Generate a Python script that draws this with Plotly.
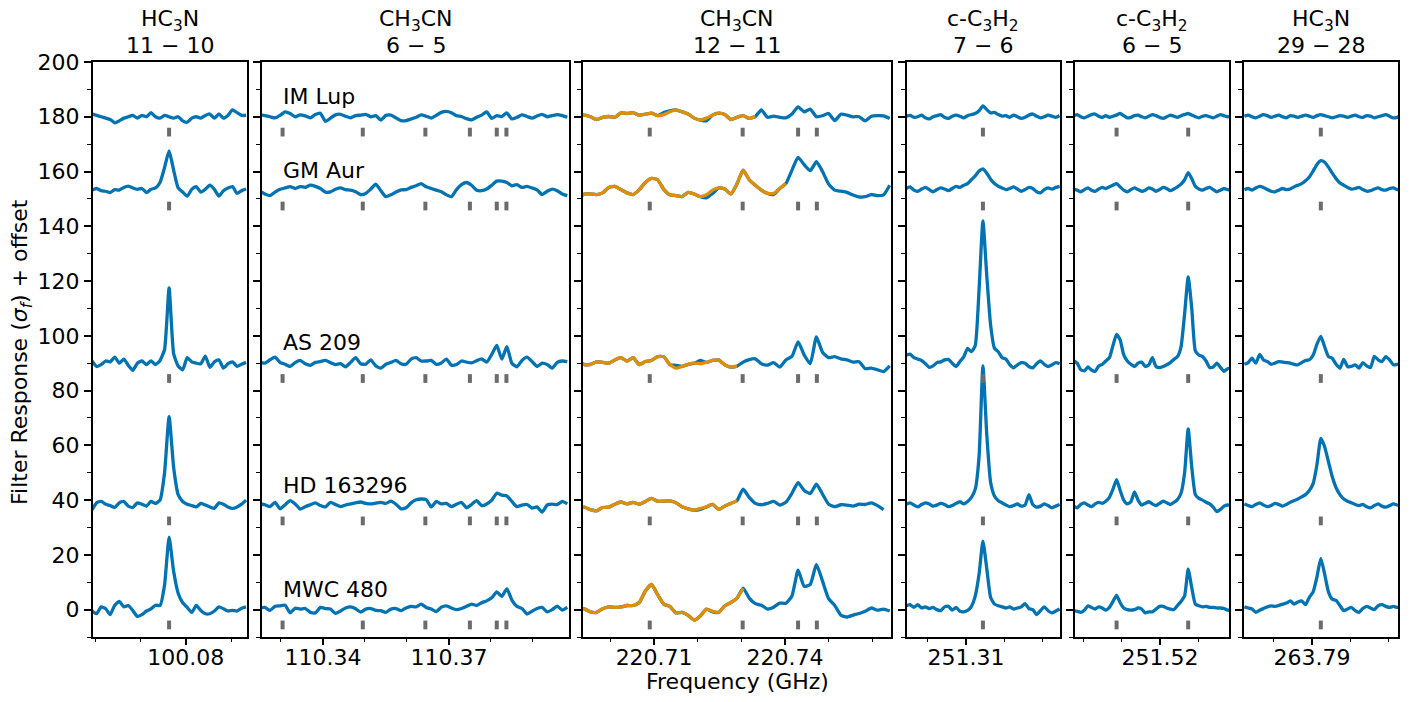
import numpy as np
import plotly.graph_objects as go

# ---------------- data ----------------
SOURCES = ["IM Lup", "GM Aur", "AS 209", "HD 163296", "MWC 480"]
OFFSETS = [180, 153, 90, 38, 0]

TITLE_MOLECULE = ["HC<sub>3</sub>N", "CH<sub>3</sub>CN", "CH<sub>3</sub>CN",
                  "c-C<sub>3</sub>H<sub>2</sub>", "c-C<sub>3</sub>H<sub>2</sub>", "HC<sub>3</sub>N"]
TITLE_TRANSITION = ["11 − 10", "6 − 5", "12 − 11", "7 − 6", "6 − 5", "29 − 28"]

# channel grids: reference frequency, channel width, first channel index
GRID_F0 = [100.0763, 110.3814, 220.7430, 251.3144, 251.5087, 263.7923]
GRID_DF = [0.001, 0.0012, 0.0014, 0.001, 0.00093, 0.001]
GRID_K0 = [-17, -47, -36, -20, -12, -20]

X_RANGES = [[100.0595, 100.0935], [110.3255, 110.3986], [220.6937, 220.7643],
            [251.2946, 251.3345], [251.4979, 251.5379], [263.7722, 263.8125]]
X_MAJOR = [[100.08], [110.34, 110.37], [220.71, 220.74], [251.31], [251.52], [263.79]]
X_MAJOR_TEXT = [["100.08"], ["110.34", "110.37"], ["220.71", "220.74"], ["251.31"], ["251.52"], ["263.79"]]
X_MINOR = [[100.06, 100.07, 100.09], [110.33, 110.35, 110.36, 110.38, 110.39],
           [220.70, 220.72, 220.73, 220.75, 220.76], [251.30, 251.32, 251.33],
           [251.50, 251.51, 251.53], [263.78, 263.80, 263.81]]

REST_FREQS = [[100.0763], [110.3304, 110.3495, 110.3644, 110.3750, 110.3814, 110.3837],
              [220.7090, 220.7303, 220.7430, 220.7473], [251.3144], [251.5087, 251.5273], [263.7923]]

Y_MAJOR = [0, 20, 40, 60, 80, 100, 120, 140, 160, 180, 200]
Y_MINOR = [-10, 10, 30, 50, 70, 90, 110, 130, 150, 170, 190]

# panel 1 : HC3N 11-10
p1_imlup = [181, 180.5, 180, 179.5, 179, 177.8, 178.5, 179.5, 180, 180.5, 179.5, 180.5, 180, 181.5, 180, 179.5, 180.5, 180, 179.5, 180, 178.5, 178, 179.5, 180, 179.5, 180.5, 181, 179.5, 181, 179.5, 180.5, 182.5, 181.5, 180.5, 180.5]
p1_gmaur = [153.2, 153.8, 153, 152.8, 152.3, 153.4, 153.2, 154.2, 154.7, 154, 153.5, 153.8, 152.3, 153.5, 154, 156, 161.5, 167.5, 160.5, 154, 152.5, 151, 153.5, 154.5, 152.5, 153.5, 155, 153.5, 151, 153, 154, 154.5, 152, 153, 153.6]
p1_as209 = [90.8, 88.8, 89.5, 90.8, 90.5, 92.2, 90, 91.5, 89.2, 87.4, 90, 90.8, 89.5, 90.8, 89.5, 91, 95, 117.5, 93.5, 89, 87.6, 92, 90.5, 90, 89.8, 92.6, 88.5, 90.5, 91.2, 88.2, 89.8, 90.5, 88.8, 89.6, 90.3]
p1_hd163296 = [36.5, 39, 39.5, 38.5, 38, 37.3, 39, 39.5, 37.8, 37.3, 39, 38.5, 37.8, 39.5, 38.8, 40, 50, 70.5, 52, 42, 39.5, 38.5, 38, 37.5, 38.8, 38.2, 37.5, 37, 39, 38.5, 37.5, 37, 37.5, 38.5, 40]
p1_mwc480 = [-0.5, -1.5, 1, 0.3, -1.8, 1.6, 3, 1, 1.5, -0.4, -2.5, -1.8, -0.5, 0.3, 1.6, 1.5, 9, 26.5, 14, 6, 2.5, 0.8, -1, 1.5, -0.3, -1.5, -1.5, -0.5, 1, 0.3, -0.5, -0.3, -0.5, 0.5, 1]

# panel 2 : CH3CN 6-5
p2_imlup = [180.7, 180.4, 180, 179.6, 180.5, 181.8, 181.2, 180, 180.7, 180.3, 179.6, 180.8, 181.3, 178.3, 179.5, 180.7, 180.9, 180.2, 179.6, 180.4, 180.6, 180.9, 180, 180.4, 178.8, 180.5, 180.6, 179.6, 178.6, 178.6, 179.2, 179.8, 180.7, 180.2, 179.5, 180.5, 181.6, 182, 181.5, 180.4, 180.1, 179.3, 178.9, 179.8, 180.6, 181.8, 179.4, 180.4, 180.1, 181.4, 179.2, 179.8, 180.7, 180.1, 179.5, 180.3, 180.9, 180, 180.4, 180.8, 180.4, 179.8]
p2_gmaur = [152.8, 151.8, 151.2, 152.5, 153.5, 154, 154.5, 153.8, 154.5, 154.2, 155, 154.6, 153.8, 152.5, 152.6, 153.5, 154, 153.4, 153.2, 152.6, 151.6, 152, 153.6, 155.4, 153, 150.8, 151.5, 152.5, 153.3, 153.4, 154.2, 154.8, 155.6, 154.4, 153.8, 153.2, 152.6, 151.5, 150.8, 153.4, 155.2, 156, 155, 153.2, 153, 153.6, 155, 156.5, 156.5, 156, 154.8, 155.2, 154.2, 154.6, 154, 153.3, 151.6, 152.8, 153.6, 153, 151.8, 151.2]
p2_as209 = [90.4, 90, 91.2, 92.2, 90.3, 89.6, 88.8, 90.2, 91, 89.8, 89.2, 90.3, 90.6, 91, 90.2, 89.5, 89.8, 88.7, 90.3, 92, 89.8, 89.6, 91.2, 89, 88.2, 89.6, 90.3, 91, 89.8, 89.6, 91.5, 92, 90.8, 90.8, 91, 89.6, 90.1, 91.5, 89.3, 89.5, 90.8, 90.4, 90.1, 90.9, 91.6, 90.4, 93.2, 96.5, 91.5, 96, 90, 88.7, 91, 92.2, 90.6, 88.8, 90, 89.5, 88.2, 90.3, 90.8, 90.6]
p2_hd163296 = [38.6, 38.3, 37.6, 39.2, 36.8, 38.3, 39.8, 38.6, 36.7, 37.6, 38.3, 39, 38, 37.5, 39.2, 38.4, 37.6, 38.2, 38.6, 39, 39.3, 38.8, 38.6, 38.9, 39.2, 38.8, 39.6, 38.5, 36.8, 37.2, 39, 40.1, 40.4, 40.2, 37.5, 39.5, 38.6, 38.8, 37.6, 38.5, 39.2, 37.2, 38.4, 39.8, 38, 38.6, 40, 42.5, 41.8, 41.5, 39.5, 37.6, 38.2, 38.4, 37.1, 37.5, 35.6, 38.2, 38.5, 38.4, 39.5, 38.6]
p2_mwc480 = [0.6, 0.8, -0.3, 1.2, 1.4, 1.6, -1.2, 0.5, 0.2, 0.4, -1, -1.2, 0.8, 0.4, 0.2, -1.4, -0.5, 0.6, 1, 0.3, -0.9, 0.2, 0.4, -0.3, -0.4, -1, 0.2, 0.4, -0.4, 0.6, 1.2, 1, 2, 0.8, 0.2, -0.7, 0.9, 1.4, 0.6, 0, 0.4, 1.2, 2, 1.5, 2.5, 3.2, 4.3, 6.5, 4.8, 7.6, 3.5, 1.2, 0.4, -1.6, -0.6, 0.4, 0.8, -0.8, 0, 1.3, -0.2, 0.8]

# panel 3 : CH3CN 12-11 (blue: full window, orange: second filter)
p3_imlup = [180.5, 180.6, 180, 179, 179.8, 180.1, 179.8, 181.4, 181.2, 181.5, 180.6, 180.9, 181.3, 180.4, 181.5, 182.2, 182.5, 181.8, 181, 179.5, 178.8, 178.5, 180.6, 181.3, 180.8, 179, 179.8, 180.4, 179.4, 180.1, 182.5, 179.8, 180.2, 179.8, 179.6, 181, 183.6, 181.8, 182.8, 180, 180.4, 181.2, 178.6, 180.9, 180.6, 180, 180, 178.5, 180.2, 180.4, 180.3, 179.4]
p3_gmaur = [150, 151.8, 151.8, 151.6, 152.2, 154.2, 154.6, 153.4, 152.2, 151.6, 153.4, 156, 157.5, 157, 153.5, 151.5, 151.2, 150.8, 152.4, 151.8, 150.8, 150.4, 152, 154, 153.6, 151.8, 155.5, 160.5, 157, 155, 153.2, 152, 151.6, 153.8, 155.6, 160.5, 165.2, 162.5, 160.3, 163.6, 160, 155.4, 153.2, 152.8, 152.4, 151.4, 150.7, 150.8, 151.6, 151.2, 151.5, 155]
p3_as209 = [90.8, 89.5, 89.6, 90.5, 90.3, 90, 91.2, 92, 90.8, 92, 89.5, 90.6, 91, 92.4, 92.4, 89.5, 89.2, 88.8, 89.6, 90, 91, 90.3, 91, 91.2, 89.4, 88.6, 88.9, 90.4, 91.3, 91.6, 89.8, 89.3, 90.2, 88.6, 91.2, 92.5, 97.8, 93, 89.8, 99.6, 94, 92, 92.4, 91.6, 91.2, 90.4, 90.5, 88, 88.2, 87.6, 86.9, 89]
p3_hd163296 = [37, 37.4, 36.5, 36.1, 37.3, 37.4, 38.5, 39.3, 38.6, 39.2, 38.5, 39.5, 40.6, 39.6, 39.6, 39.7, 39, 37.6, 36.8, 36.3, 36.6, 37.5, 38.4, 36.6, 37.8, 38.8, 39.8, 44, 41, 38.8, 38.3, 38.8, 39.5, 38.2, 39.2, 42.5, 46.4, 43.5, 42.4, 45.8, 42.2, 38.5, 37.6, 38.3, 38.2, 37.8, 38.5, 38.4, 39, 38, 36.5]
p3_mwc480 = [0.6, 0.3, -0.8, -1, 0.3, 1, 0.8, 1, 1.5, 1.5, 2.6, 6.8, 9.2, 5.5, 2, 1.2, -1.2, -1, -2.1, -3.8, -2.3, 0.2, -0.8, -1, 1.4, 2.6, 4.2, 7.8, 4.2, 2.2, 1.6, 0.2, 0.9, 2.4, 2.3, 5, 14.4, 8.5, 9.2, 16.5, 10.4, 4, 1.5, -2, -2.7, -2, -1.4, -0.6, 0.6, -0.2, 0.2, -0.5]

p3o_imlup = [180.5, 180.6, 180, 179, 179.8, 180.1, 179.8, 181.4, 181.2, 181.5, 180.6, 180.9, 181.3, 180.4, 180.8, 181.8, 182.5, 181.8, 181, 179.5, 178.8, 179.5, 180.6, 181.3, 180.8, 179, 179.8, 180.4, 179.4, 180.1]
p3o_gmaur = [150, 151.8, 151.8, 151.6, 152.2, 154.2, 154.6, 153.4, 152.2, 151.6, 153.4, 156, 157.5, 157, 153.5, 151.5, 151.2, 150.8, 152.4, 151.8, 150.8, 151.5, 153.2, 154, 153.6, 151.8, 155.5, 160.5, 157, 155, 153.2, 152, 152, 153.8, 155.6]
p3o_as209 = [90.8, 89.5, 89.6, 90.5, 90.3, 90, 91.2, 92, 90.8, 92, 89.5, 90.6, 91, 92.4, 92.4, 89.5, 88.2, 88.8, 89.6, 90, 89.8, 90.3, 91, 91.2, 89.4, 88.6, 88.9]
p3o_hd163296 = [37, 37.4, 36.5, 36.1, 37.3, 37.4, 38.5, 39.3, 38.6, 39.2, 38.5, 39.5, 40.6, 39.6, 39.6, 39.7, 39, 37.6, 36.8, 36.3, 37, 37.5, 38.4, 36.6, 37.8, 38.8, 39.8]
p3o_mwc480 = [0.6, 0.3, -0.8, -1, 0.3, 1, 0.8, 1, 1.5, 1.5, 2.6, 6.8, 9.2, 5.5, 2, 1.2, -1.2, -1, -2.1, -3.8, -2.3, 0.2, -0.6, -1, 1.4, 2.6, 4.2, 7.8]

# panel 4 : c-C3H2 7-6
p4_imlup = [180.2, 180.5, 179.8, 180, 180.6, 179.6, 179.2, 180, 180.4, 180.8, 179.8, 179.4, 180.2, 180.6, 180.2, 179.6, 180.4, 180.8, 181.2, 182.2, 184, 182.6, 181.4, 181.6, 180.8, 180.2, 180.4, 179.8, 180.6, 180, 179.4, 179.8, 180.6, 181, 180.2, 179.6, 180, 180.6, 180.2, 179.8, 180.4]
p4_gmaur = [153.8, 154.4, 153.2, 152.8, 153.6, 154.2, 153.4, 152.6, 153.4, 154, 153.6, 153, 153.8, 154.6, 154.2, 155, 155.6, 157, 158.4, 160.2, 161, 159.4, 157.2, 155.6, 154.6, 154, 153.4, 153.8, 154.4, 153.6, 152.8, 153.4, 154.2, 153.8, 152.6, 152.2, 153.4, 154, 153.6, 154.2, 154.6]
p4_as209 = [93, 93.3, 92, 91.5, 91, 89.8, 88.5, 89, 90.2, 90.5, 91.2, 91.4, 90, 88.8, 90.6, 92.3, 95.4, 94.2, 96.5, 117, 142, 122, 104, 95.5, 94.2, 92, 91.5, 89.5, 88.3, 89.4, 90.2, 90, 88.8, 88.3, 89.8, 90.8, 89.6, 88.8, 89.4, 90.2, 89.8]
p4_hd163296 = [38.5, 39, 38.2, 37.5, 38.4, 39, 38.6, 37.8, 38.2, 38.8, 38.4, 37.6, 38, 38.8, 39.4, 38.6, 39.5, 41, 44, 56, 89, 64, 46.5, 41.5, 39.8, 39, 38.2, 37.6, 38, 38.6, 37.8, 38.2, 42, 38.4, 37.4, 37.8, 38.6, 38, 37.2, 37.8, 38.4]
p4_mwc480 = [1.4, 1.8, 0.8, 1.8, 0.6, 1, 0.4, 0.8, 0, -0.4, 1, 1.2, -0.2, 0.8, -0.6, -0.8, -0.3, 1.2, 5, 13, 25, 15, 4.5, 2, 1.4, 1, 0.6, 1, 0.2, 0.6, 1, 2.2, 0.4, 0, -1.8, -0.4, 1, -0.4, -1.2, -0.5, 0.2]

# panel 5 : c-C3H2 6-5
p5_imlup = [180.4, 180.8, 180, 179.6, 180.2, 180.8, 181, 180.2, 179.8, 180.4, 179.8, 180.2, 180.6, 181.2, 180.4, 179.6, 179.8, 180.4, 180.6, 180, 179.6, 180.2, 180.8, 180.4, 179.8, 179.4, 180, 180.6, 180.2, 179.8, 180.4, 180.8, 181.2, 180.6, 180, 179.6, 180.2, 180.4, 180, 179.6, 180.2, 180.8, 180.4, 180, 180.2]
p5_gmaur = [153.6, 153.2, 152.6, 153.4, 154, 153.2, 152.8, 153.6, 154.2, 153.8, 154.4, 155, 155.6, 154.4, 153.2, 152.6, 153.4, 154, 153.4, 152.8, 153.2, 154, 153.6, 152.8, 153.4, 154.2, 153.8, 153, 153.6, 154.4, 155.4, 157, 159.6, 157.4, 154.6, 153.6, 153.2, 153.8, 154.2, 153.4, 152.6, 153.2, 153.8, 153.4, 153.2]
p5_as209 = [91, 90, 87.6, 87.2, 88.6, 87.5, 87, 89, 89.6, 90.8, 92, 96.5, 100.5, 98.5, 93, 90.8, 89.6, 88.8, 90, 90.4, 88.8, 89.4, 92, 88.8, 88.4, 88.8, 89.4, 90.2, 91.4, 92.4, 96, 108, 121.5, 110, 94.5, 93, 92.4, 90.8, 88.4, 88.6, 90, 88.5, 87, 88, 88.2]
p5_hd163296 = [37.8, 37.2, 38.4, 39, 38.2, 37.6, 38.6, 39.2, 38.8, 39.6, 41, 44, 47.5, 43.5, 40, 38.6, 39.4, 43, 40, 38.2, 38.8, 39.4, 38.6, 38, 38.8, 39.6, 39, 38.4, 39.2, 40.2, 42.5, 50, 66, 52, 42, 40.6, 40, 39.2, 38.6, 37.4, 35.8, 36.6, 37.8, 38.2, 38]
p5_mwc480 = [-0.4, -0.6, -1, -0.2, 1.4, 0.8, 0.2, 1, 0.6, -0.2, 0.8, 3, 5.2, 2.5, 0.6, 0, -0.2, 0, 0.6, 0.2, -1.2, -0.8, -0.8, 0.2, 1.2, 1.2, 0.6, 0.2, 0, 1.5, 3, 5, 14.8, 8, 2, 1.4, 1, 1.2, 0.8, 0.8, 0.6, 0.6, 0.4, -0.2, -0.2]

# panel 6 : HC3N 29-28
p6_imlup = [180.2, 180.6, 180, 179.6, 180.2, 180.8, 180.4, 179.8, 180.2, 180.6, 180, 179.6, 180.4, 180.2, 179.8, 180.2, 180.6, 180.2, 179.8, 180.4, 180.8, 180.4, 180, 179.6, 180, 180.4, 180.2, 179.8, 180.2, 180.6, 180, 179.8, 180.4, 180.2, 179.6, 180, 180.4, 180.8, 180.2, 179.6, 179.8, 180.4]
p6_gmaur = [153.4, 153.8, 153.2, 154, 154.6, 154.2, 153.4, 152.8, 152.6, 153.2, 153.8, 153.4, 153.6, 154.4, 155, 155.6, 156.6, 158, 160.2, 162.6, 164, 163.4, 161.6, 159.4, 157.4, 155.8, 155, 154.2, 153.6, 153.8, 154.2, 153.4, 152.8, 153, 153.6, 154, 153.4, 153.2, 153.8, 154, 153.4, 153.6]
p6_as209 = [89.6, 90.2, 91.8, 90, 93.2, 91.2, 90.6, 89.6, 90, 90.6, 90.4, 90.2, 90, 89.6, 89.4, 90.2, 91, 91.2, 93, 97, 99.8, 96, 92.4, 91.8, 89.6, 88.2, 91.4, 88.8, 88.8, 89.4, 88.2, 90.2, 89, 88.4, 92.5, 91.2, 90.6, 92.4, 91.2, 89.4, 89.6, 90]
p6_hd163296 = [38.6, 38, 37.6, 38.4, 39, 38.2, 37.6, 38, 38.8, 38.4, 37.8, 38.4, 39.2, 39.8, 40.4, 41.2, 42, 43.5, 46, 53, 62.5, 59.5, 54, 48.5, 44.5, 42, 40.4, 39.6, 39, 38.4, 38, 38.4, 37.6, 37.2, 38, 38.6, 37.8, 37.4, 38, 38.6, 38.2, 37.8]
p6_mwc480 = [1, 0.6, 0.2, -1, -0.2, 0.4, 1, 1.4, 1.2, 1.5, 2, 2.4, 3.2, 2, 2.8, 3.2, 1.8, 4.5, 6.5, 12, 18.7, 13, 6.5, 3.8, 3.4, 1.5, -0.4, 0.2, 0.8, -0.4, -1, 0.4, 1.2, 0.6, 0, 1.4, 1.8, 1.2, 0.8, 1.2, 0.8, 1.4]

BLUE = [
    [p1_imlup, p1_gmaur, p1_as209, p1_hd163296, p1_mwc480],
    [p2_imlup, p2_gmaur, p2_as209, p2_hd163296, p2_mwc480],
    [p3_imlup, p3_gmaur, p3_as209, p3_hd163296, p3_mwc480],
    [p4_imlup, p4_gmaur, p4_as209, p4_hd163296, p4_mwc480],
    [p5_imlup, p5_gmaur, p5_as209, p5_hd163296, p5_mwc480],
    [p6_imlup, p6_gmaur, p6_as209, p6_hd163296, p6_mwc480],
]
ORANGE_P3 = [p3o_imlup, p3o_gmaur, p3o_as209, p3o_hd163296, p3o_mwc480]

# ---------------- styling ----------------
C_BLUE = "#0173B2"
C_ORANGE = "#DE8F05"
C_MARK = "#6b6b6b"
FONT = "DejaVu Sans"
FS = 22
# the page body adds an 8 px margin, so the figure is drawn 8 px in from the window edge
PAGE = 8
W, H = 1416 - 2 * PAGE, 702 - 2 * PAGE

X_PIX = [(93, 247), (262, 569), (583, 891), (907, 1060), (1075, 1229), (1244, 1398)]
Y_PIX = (62, 637)


def px(x):
    return (x - PAGE) / W


def py(y):
    return 1 - (y - PAGE) / H


def chan_freq(p, n):
    return GRID_F0[p] + GRID_DF[p] * (GRID_K0[p] + np.arange(n))


fig = go.Figure()
tickfont = dict(size=FS, family=FONT, color="black")

for p in range(6):
    ax = "" if p == 0 else str(p + 1)
    xref, yref = "x" + ax, "y" + ax
    for s in range(5):
        vals = BLUE[p][s]
        fig.add_trace(go.Scatter(x=chan_freq(p, len(vals)), y=vals, mode="lines",
                                 line=dict(color=C_BLUE, width=3.3, shape="spline", smoothing=0.5),
                                 xaxis=xref, yaxis=yref, hoverinfo="skip"))
    if p == 2:
        for s in range(5):
            vals = ORANGE_P3[s]
            fig.add_trace(go.Scatter(x=chan_freq(p, len(vals)), y=vals, mode="lines",
                                     line=dict(color=C_ORANGE, width=3.3, shape="spline", smoothing=0.5),
                                     xaxis=xref, yaxis=yref, hoverinfo="skip"))
    mx, my = [], []
    for off in OFFSETS:
        for f in REST_FREQS[p]:
            mx += [f, f, None]
            my += [off - 7.2, off - 4.0, None]
    fig.add_trace(go.Scatter(x=mx, y=my, mode="lines", line=dict(color=C_MARK, width=4),
                             xaxis=xref, yaxis=yref, hoverinfo="skip"))

    x0, x1 = X_PIX[p]
    # main x axis: frame and tick labels only
    fig.layout["xaxis" + ax] = dict(
        domain=[px(x0), px(x1)], range=X_RANGES[p], anchor=yref, automargin=False,
        tickmode="array", tickvals=X_MAJOR[p], ticktext=X_MAJOR_TEXT[p], ticks="",
        showline=True, linewidth=2, linecolor="black", mirror=True,
        showgrid=False, zeroline=False, tickfont=tickfont)
    # overlay x axis drawing the major and minor tick marks
    ox = str(p + 7)
    fig.add_trace(go.Scatter(x=[], y=[], xaxis="x" + ox, yaxis=yref, hoverinfo="skip"))
    fig.layout["xaxis" + ox] = dict(
        overlaying=xref, anchor=yref, range=X_RANGES[p], automargin=False, side="bottom",
        tickmode="array", tickvals=X_MAJOR[p], showticklabels=False,
        ticks="outside", ticklen=7, tickwidth=1.5, tickcolor="black",
        minor=dict(tickmode="array", tickvals=X_MINOR[p], ticks="outside", ticklen=4,
                   tickwidth=1.2, tickcolor="black", showgrid=False),
        showline=False, showgrid=False, zeroline=False)
    fig.layout["yaxis" + ax] = dict(
        domain=[py(Y_PIX[1]), py(Y_PIX[0])], range=[-10, 200], anchor=xref, automargin=False,
        tickmode="array", tickvals=Y_MAJOR, ticktext=[str(v) for v in Y_MAJOR],
        showticklabels=(p == 0),
        ticks="outside", ticklen=7, tickwidth=1.5, tickcolor="black",
        minor=dict(tickmode="array", tickvals=Y_MINOR, ticks="outside", ticklen=4,
                   tickwidth=1.2, tickcolor="black", showgrid=False),
        showline=True, linewidth=2, linecolor="black", mirror=True,
        showgrid=False, zeroline=False, tickfont=tickfont)

annotations = []
for p in range(6):
    x0, x1 = X_PIX[p]
    xc = px((x0 + x1) / 2)
    annotations.append(dict(text=TITLE_MOLECULE[p], x=xc, y=py(21), xref="paper", yref="paper",
                            xanchor="center", yanchor="middle", showarrow=False, font=tickfont))
    annotations.append(dict(text=TITLE_TRANSITION[p], x=xc, y=py(46), xref="paper", yref="paper",
                            xanchor="center", yanchor="middle", showarrow=False, font=tickfont))
for s, name in enumerate(SOURCES):
    annotations.append(dict(text=name, x=110.3300, y=OFFSETS[s] + 7.5, xref="x2", yref="y2",
                            xanchor="left", yanchor="middle", showarrow=False, font=tickfont))
annotations.append(dict(text="Filter Response (<i>σ<sub>f</sub></i>) + offset", x=px(21), y=py(352),
                        xref="paper", yref="paper", xanchor="center", yanchor="middle",
                        textangle=-90, showarrow=False, font=tickfont))
annotations.append(dict(text="Frequency (GHz)", x=px(737), y=py(681),
                        xref="paper", yref="paper", xanchor="center", yanchor="middle",
                        showarrow=False, font=tickfont))

fig.update_layout(width=W, height=H, margin=dict(l=0, r=0, t=0, b=0, pad=0),
                  paper_bgcolor="white", plot_bgcolor="white", showlegend=False,
                  font=dict(family=FONT, size=FS, color="black"),
                  annotations=annotations)

fig.write_html("out.html")
